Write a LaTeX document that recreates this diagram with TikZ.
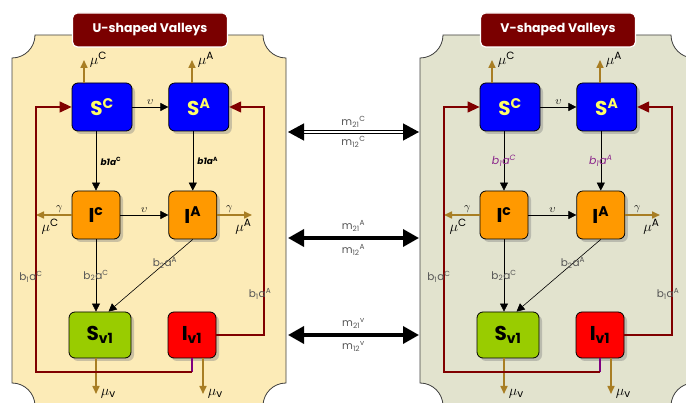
\documentclass[tikz,border=0pt]{standalone}
\usepackage{fontspec}
\setmainfont{Poppins}
\usetikzlibrary{arrows.meta,positioning,shadows}
\definecolor{ufill}{RGB}{252,235,183}
\definecolor{vfill}{RGB}{226,227,206}
\definecolor{maroon}{RGB}{122,0,0}
\definecolor{ochre}{RGB}{168,126,36}
\definecolor{loopred}{RGB}{128,0,0}
\definecolor{plum}{RGB}{128,0,128}
\definecolor{lblgray}{RGB}{85,85,85}
\definecolor{boxblue}{RGB}{0,0,255}
\definecolor{boxorange}{RGB}{255,153,0}
\definecolor{boxgreen}{RGB}{153,204,0}
\definecolor{boxred}{RGB}{255,0,0}
\definecolor{sgold}{RGB}{255,255,102}
\definecolor{vlbl}{RGB}{140,40,140}

\begin{document}
\begin{tikzpicture}[x=1pt, y=-1pt, every node/.style={font=\small},
  box/.style={rounded corners=6pt,draw=black,line width=0.8pt,inner sep=0pt,
    font=\fontsize{20}{20}\selectfont\bfseries,
    drop shadow={opacity=0.4,shadow xshift=3pt,shadow yshift=-3pt}},
  ttl/.style={rounded corners=5pt,fill=maroon,draw=white,line width=1.2pt,text=white,
    font=\fontsize{12.5}{13}\selectfont\bfseries,minimum width=155pt,minimum height=34pt},
  mu/.style={-{Triangle[length=8pt,width=7pt]},draw=ochre,line width=1.6pt},
  flow/.style={-{Triangle[length=8pt,width=8pt]},line width=0.6pt},
  fb/.style={-{Triangle[length=12pt,width=11pt]},draw=loopred,line width=1.3pt},
  mig/.style={{Triangle[length=16pt,width=17pt]}-{Triangle[length=16pt,width=17pt]},line width=3.5pt},
  glbl/.style={text=lblgray,font=\fontsize{10.5}{11}\selectfont,inner sep=1pt},
  greek/.style={font=\fontsize{11}{11}\selectfont,inner sep=2pt},
  mulbl/.style={font=\fontsize{15}{15}\selectfont,inner sep=1pt},
  u-panel/.style={fill=ufill},
  v-panel/.style={fill=vfill},
  u-lbl/.style={right=1pt,font=\fontsize{9}{9}\selectfont\bfseries\itshape},
  v-lbl/.style={text=vlbl,font=\fontsize{11}{11}\selectfont\itshape}]
  \useasboundingbox (0,0) rectangle (686,403);
  \clip (0,0) rectangle (686,403);

  \foreach \ox/\pf/\ttl/\lc/\la in {0/u/{U-shaped Valleys}/{b1a$^{\mathbf{C}}$}/{b1a$^{\mathbf{A}}$},
      408/v/{V-shaped Valleys}/{b\textsubscript{1}a\textsuperscript{C}}/{b\textsubscript{1}a\textsuperscript{A}}}{
  \begin{scope}[shift={(\ox,0)}, name prefix=\pf-]
    % panel with hollow corners
    \draw[\pf-panel,draw=black!75,line width=0.8pt] (35,35) -- (263,35)
      arc[start angle=180,end angle=90,radius=23] -- (286,383)
      arc[start angle=270,end angle=180,radius=23] -- (35,406)
      arc[start angle=0,end angle=-90,radius=23] -- (12,58)
      arc[start angle=90,end angle=0,radius=23] -- cycle;
    \node[ttl] (title) at (150,30) {\ttl};

    % compartments
    \node[box,fill=boxblue,text=sgold,minimum width=60pt,minimum height=48pt] (sc) at (102,107) {S\textsuperscript{C}};
    \node[box,fill=boxblue,text=sgold,minimum width=60pt,minimum height=48pt,right=36pt of sc] (sa) {S\textsuperscript{A}};
    \node[box,fill=boxorange,minimum size=48pt] (ic) at (96,215) {I\textsuperscript{c}};
    \node[box,fill=boxorange,minimum size=48pt,right=48pt of ic] (ia) {I\textsuperscript{A}};
    \node[box,fill=boxgreen,minimum width=62pt,minimum height=46pt] (sv) at (100,335) {S\textsubscript{v1}};
    \node[box,fill=boxred,minimum width=48pt,minimum height=46pt] (iv) at (192,335) {I\textsubscript{v1}};

    \coordinate (muc) at (84,60);  \coordinate (mua) at (192,60);
    \coordinate (gc) at (36,215);  \coordinate (ga) at (252,215);
    \coordinate (vs) at (96,394);  \coordinate (vi) at (203,394);
    \coordinate (lb) at (36,372);  \coordinate (rb) at (264,335);

    % deaths and recovery
    \draw[mu] (muc |- sc.north) -- (muc) node[right=4pt,mulbl]{$\mu^{\mathrm{C}}$};
    \draw[mu] (mua |- sa.north) -- (mua) node[right=4pt,mulbl]{$\mu^{\mathrm{A}}$};
    \draw[mu] (ic.west) -- (gc) node[pos=0.35,above,greek]{$\gamma$} node[pos=0.6,below=2pt,mulbl]{$\mu^{\mathrm{C}}$};
    \draw[mu] (ia.east) -- (ga) node[pos=0.35,above,greek]{$\gamma$} node[pos=0.75,below=2pt,mulbl]{$\mu^{\mathrm{A}}$};
    \draw[mu] (vs |- sv.south) -- (vs) node[right=3pt,mulbl]{$\mu_{\mathrm{v}}$};
    \draw[mu] (vi |- iv.south) -- (vi) node[right=3pt,mulbl]{$\mu_{\mathrm{v}}$};

    % transitions
    \draw[flow] (sc) -- (sa) node[midway,above,greek]{$\upsilon$};
    \draw[flow] (ic) -- (ia) node[midway,above,greek]{$\upsilon$};
    \draw[flow] (sc.south -| ic.north) -- (ic.north) node[midway,\pf-lbl]{\lc};
    \draw[flow] (sa.south -| ia.north) -- (ia.north) node[midway,\pf-lbl]{\la};
    \draw[flow] (ic.south) -- (ic.south |- sv.north) node[midway,glbl]{b\textsubscript{2}a\textsuperscript{C}};
    \draw[flow] (ia.south) -- (sv.70) node[pos=0.33,glbl]{b\textsubscript{2}a\textsuperscript{A}};

    % vector feedback
    \draw[plum,line width=1.3pt] (iv.south) -- (iv.south |- lb);
    \draw[fb] (iv.south |- lb) -- (lb) |- (sc.west) node[pos=0.18,glbl,xshift=-5pt]{b\textsubscript{1}a\textsuperscript{C}};
    \draw[fb] (iv.east) -- (rb) |- (sa.east) node[pos=0.09,glbl,xshift=-4pt]{b\textsubscript{1}a\textsuperscript{A}};
  \end{scope}}

  % migration between valleys
  \coordinate (uC) at (288,132); \coordinate (vC) at (419,132);
  \coordinate (uA) at (288,238); \coordinate (vA) at (419,238);
  \coordinate (uV) at (288,335); \coordinate (vV) at (419,335);
  \draw[mig,line width=1.3pt,double=white,double distance=1.4pt] (uC) -- (vC)
    node[midway,above=3pt,glbl]{m\textsubscript{21}\textsuperscript{C}}
    node[midway,below=3pt,glbl]{m\textsubscript{12}\textsuperscript{C}};
  \draw[mig] (uA) -- (vA)
    node[midway,above=4pt,glbl]{m\textsubscript{21}\textsuperscript{A}}
    node[midway,below=4pt,glbl]{m\textsubscript{12}\textsuperscript{A}};
  \draw[mig] (uV) -- (vV)
    node[midway,above=4pt,glbl]{m\textsubscript{21}\textsuperscript{v}}
    node[midway,below=4pt,glbl]{m\textsubscript{12}\textsuperscript{v}};
\end{tikzpicture}
\end{document}
